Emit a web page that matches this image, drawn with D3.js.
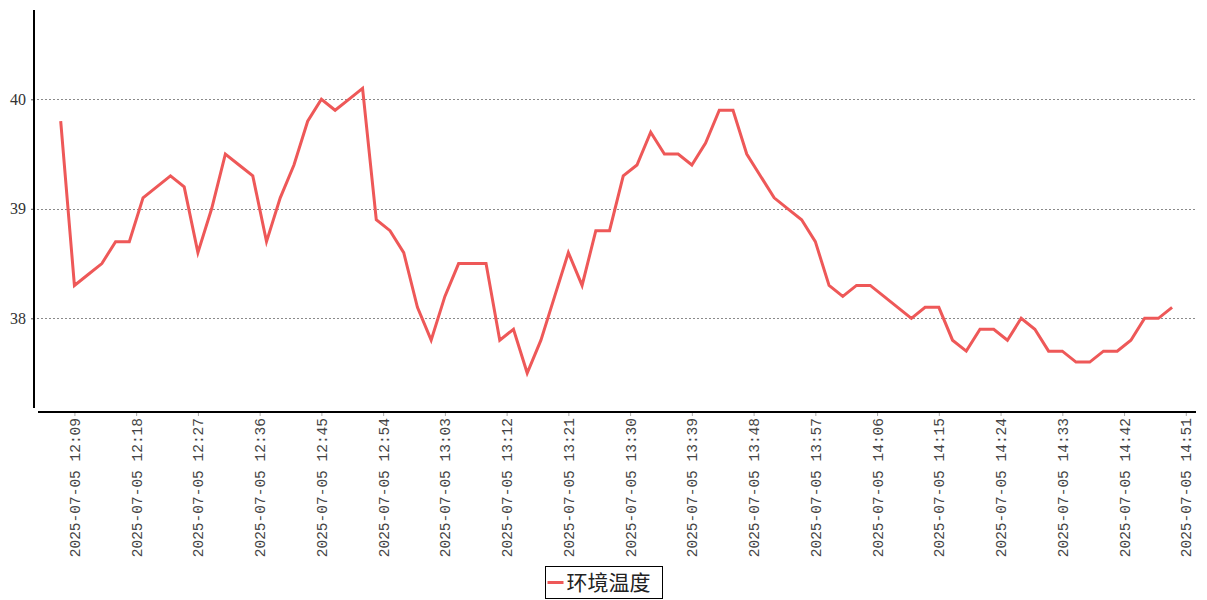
<!DOCTYPE html>
<html>
<head>
<meta charset="utf-8">
<script src="https://cdn.jsdelivr.net/npm/d3@7"></script>
<style>
  html, body { margin: 0; padding: 0; background: #fff; }
  svg { display: block; }
</style>
</head>
<body>
<svg id="chart" width="1207" height="600"></svg>
<script>
// ---- Data ----
const seriesName = "环境温度";
const startTime = "2025-07-05 12:07";   // first sample, every 2 minutes
const stepMinutes = 2;
const temperature = [
  39.8, 38.3, 38.4, 38.5, 38.7, 38.7, 39.1, 39.2, 39.3, 39.2,
  38.6, 39.0, 39.5, 39.4, 39.3, 38.7, 39.1, 39.4, 39.8, 40.0,
  39.9, 40.0, 40.1, 38.9, 38.8, 38.6, 38.1, 37.8, 38.2, 38.5,
  38.5, 38.5, 37.8, 37.9, 37.5, 37.8, 38.2, 38.6, 38.3, 38.8,
  38.8, 39.3, 39.4, 39.7, 39.5, 39.5, 39.4, 39.6, 39.9, 39.9,
  39.5, 39.3, 39.1, 39.0, 38.9, 38.7, 38.3, 38.2, 38.3, 38.3,
  38.2, 38.1, 38.0, 38.1, 38.1, 37.8, 37.7, 37.9, 37.9, 37.8,
  38.0, 37.9, 37.7, 37.7, 37.6, 37.6, 37.7, 37.7, 37.8, 38.0,
  38.0, 38.1
];
const xTickLabels = [
  "2025-07-05 12:09", "2025-07-05 12:18", "2025-07-05 12:27", "2025-07-05 12:36",
  "2025-07-05 12:45", "2025-07-05 12:54", "2025-07-05 13:03", "2025-07-05 13:12",
  "2025-07-05 13:21", "2025-07-05 13:30", "2025-07-05 13:39", "2025-07-05 13:48",
  "2025-07-05 13:57", "2025-07-05 14:06", "2025-07-05 14:15", "2025-07-05 14:24",
  "2025-07-05 14:33", "2025-07-05 14:42", "2025-07-05 14:51"
];
const yTicks = [38, 39, 40];

// ---- Build ----
const parse = d3.timeParse("%Y-%m-%d %H:%M");
const t0 = parse(startTime);
const data = temperature.map((v, i) => ({ t: d3.timeMinute.offset(t0, i * stepMinutes), v }));
const tickDates = xTickLabels.map(parse);

const svg = d3.select("#chart");
const monoFont = "'Liberation Mono', 'DejaVu Sans Mono', monospace";
const serifFont = "'Liberation Serif', 'DejaVu Serif', serif";

const x = d3.scaleTime()
  .domain([t0, tickDates[tickDates.length - 1]])
  .range([60.7, 1185.8]);
const y = d3.scaleLinear()
  .domain([38, 40])
  .range([318.3, 99.3]);

const plotLeft = 37, plotRight = 1196, plotTop = 10, plotBottom = 408;

// gridlines
svg.append("g")
  .selectAll("line")
  .data(yTicks)
  .join("line")
  .attr("x1", plotLeft)
  .attr("x2", plotRight - 1)
  .attr("y1", d => Math.round(y(d)) + 0.5)
  .attr("y2", d => Math.round(y(d)) + 0.5)
  .attr("stroke", "#8a8a8a")
  .attr("stroke-width", 1)
  .attr("stroke-dasharray", "2,2");

// y axis
const yAxisG = svg.append("g")
  .attr("transform", "translate(34,0)")
  .call(d3.axisLeft(y).tickValues(yTicks).tickFormat(d3.format("d")).tickSize(3).tickPadding(5).tickSizeOuter(0));
yAxisG.select(".domain").remove();
yAxisG.append("line")
  .attr("x1", 0).attr("x2", 0)
  .attr("y1", plotTop).attr("y2", plotBottom)
  .attr("stroke", "#000").attr("stroke-width", 2);
yAxisG.selectAll(".tick line").attr("stroke", "#555");
yAxisG.selectAll(".tick text")
  .attr("font-family", serifFont)
  .attr("font-size", 16)
  .attr("fill", "#333");

// x axis
const xAxisG = svg.append("g")
  .attr("transform", "translate(0,412)")
  .call(d3.axisBottom(x).tickValues(tickDates).tickFormat((d, i) => xTickLabels[i]).tickSize(4).tickSizeOuter(0));
xAxisG.select(".domain").remove();
xAxisG.append("line")
  .attr("x1", 38).attr("x2", plotRight)
  .attr("y1", 0).attr("y2", 0)
  .attr("stroke", "#000").attr("stroke-width", 2);
xAxisG.selectAll(".tick line").attr("stroke", "#aaa");
xAxisG.selectAll(".tick text")
  .attr("font-family", monoFont)
  .attr("font-size", 14.5)
  .attr("fill", "#444")
  .attr("text-anchor", "end")
  .attr("dy", "0.35em")
  .attr("transform", "translate(0,6) rotate(-90)")
  .attr("x", 0)
  .attr("y", 0);

// line
const line = d3.line()
  .x(d => x(d.t))
  .y(d => y(d.v));
svg.append("path")
  .datum(data)
  .attr("fill", "none")
  .attr("stroke", "#ee5858")
  .attr("stroke-width", 3)
  .attr("stroke-linejoin", "miter")
  .attr("d", line);

// legend
const legend = svg.append("g").attr("transform", "translate(545.5,566.5)");
legend.append("rect")
  .attr("width", 117).attr("height", 32)
  .attr("fill", "#fff").attr("stroke", "#000").attr("stroke-width", 1);
legend.append("line")
  .attr("x1", 2).attr("x2", 18)
  .attr("y1", 16).attr("y2", 16)
  .attr("stroke", "#ee5858").attr("stroke-width", 3);
legend.append("text")
  .attr("x", 21).attr("y", 16)
  .attr("dy", "0.36em")
  .attr("font-family", "'Noto Sans CJK SC', sans-serif")
  .attr("font-size", 21)
  .attr("fill", "#222")
  .text(seriesName);
</script>
</body>
</html>
